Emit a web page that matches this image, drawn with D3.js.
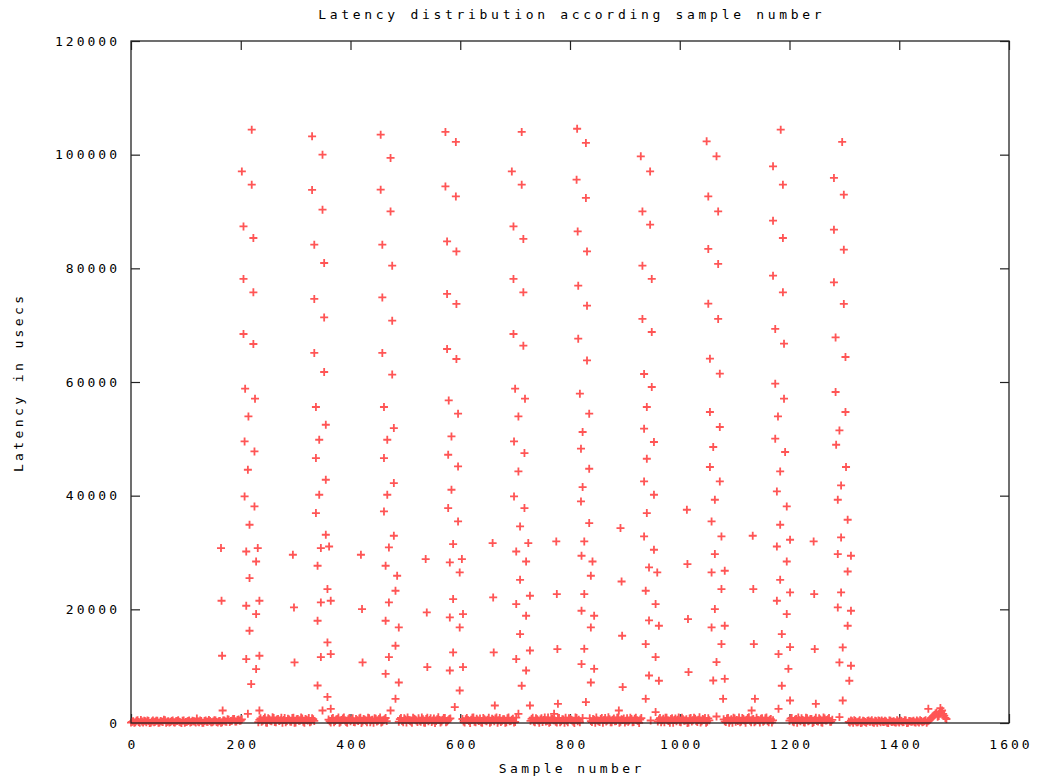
<!DOCTYPE html>
<html><head><meta charset="utf-8">
<script src="https://cdn.jsdelivr.net/npm/d3@7"></script>
<style>
body{margin:0;background:#fff;}
text{font-family:"DejaVu Sans Mono",monospace;font-size:13px;fill:#000;}
</style></head><body>
<svg id="chart" width="1043" height="780"></svg>
<script>
// ---- data (sample number, latency in usecs) ----
const titleText = "Latency distribution according sample number";
const xLabel = "Sample number";
const yLabel = "Latency in usecs";
const xTicks = [0,200,400,600,800,1000,1200,1400,1600];
const yTicks = [0,20000,40000,60000,80000,100000,120000];

// low-latency band: per segment, values for samples start, start+4, ... (A) and start+2, start+6, ... (B)
const bandStep = 4;
const bandStarts = [0,232,360,488,604,728,836,960,1080,1200,1308];
const bandValuesA = [
 [80,320,150,480,30,250,400,120,340,60,450,210,380,90,270,560,40,310,180,420,100,350,230,20,460,190,330,70,400,260,780,130,350,50,440,220,370,110,500,160,300,30,420,260,650,180,380,720,250,600,420],
 [150,820,400,980,60,640,300,900,120,720,480,40,860,350,600,200,940,90,700,420,780,30,560,880,250,680],
 [600,80,900,350,720,40,530,960,180,640,300,850,110,470,780,20,690,400,920,150,560,830,260,710,70,500,880],
 [240,890,130,600,970,380,50,740,460,820,200,650,30,910,540,170,780,330,990,100,560,870,280,720],
 [700,90,860,350,580,960,140,480,810,40,670,300,920,200,550,780,60,890,400,640,120,950,330,760,180],
 [380,920,110,650,40,830,520,260,970,190,700,480,80,860,310,600,940,150,740,420,20,880,560],
 [820,160,580,960,300,700,50,890,420,640,120,780,360,980,240,520,70,850,460,690,190,930,340,610],
 [260,870,500,120,940,330,690,40,800,560,210,910,380,640,90,860,470,730,170,990,310,580,60,820],
 [640,180,900,420,60,780,520,950,250,700,30,860,390,610,140,920,480,740,200,830,350,570,100],
 [410,880,150,690,960,300,540,70,820,460,720,180,930,260,620,40,790,500,870,230],
 [200,420,60,350,150,480,90,300,30,440,260,120,380,50,330,460,170,280,20,400,230,110,490,70,350,190,420,40,310,250,130,450,80,370,210,500,300,600,950,1400,1800,1250,2000,1600,900]
];
const bandValuesB = [
 [210,40,380,160,520,90,300,450,20,270,130,410,60,330,190,480,240,70,360,140,290,500,110,390,50,230,440,170,310,80,260,420,30,370,200,540,150,280,430,70,350,120,460,210,580,330,700,280,510,390,640],
 [560,230,700,90,850,410,990,180,620,330,910,520,140,760,270,880,50,640,380,960,200,720,450,110,830,360],
 [320,760,150,620,980,240,810,420,60,890,510,170,720,360,940,280,560,120,830,470,30,740,390,980,210,650,340],
 [680,360,820,90,540,250,930,610,180,390,960,70,720,300,840,450,20,640,510,250,900,140,470,810],
 [280,640,510,20,910,240,760,370,130,890,460,580,60,750,320,980,420,170,660,30,820,290,550,100,930],
 [720,260,850,430,600,170,980,340,60,760,490,220,910,130,680,40,390,830,570,200,960,310,120],
 [330,700,40,450,180,870,520,260,990,110,570,300,940,60,680,810,380,230,920,150,740,480,20,870],
 [610,110,760,930,420,50,850,510,290,980,140,660,430,20,800,250,940,340,580,70,720,890,200,470],
 [290,810,60,680,930,220,370,110,860,420,590,990,150,720,300,540,80,850,380,960,120,690,470],
 [760,260,590,40,480,820,130,930,310,690,20,560,360,840,110,980,420,680,210,550],
 [90,310,470,130,260,20,410,180,370,230,500,60,290,440,110,220,390,40,460,160,320,80,270,430,150,490,20,360,200,410,100,280,470,140,330,60,450,780,1200,1650,1100,1900,2200,1300,700]
];

// smaller draining bursts between the big columns
const midBursts = [
 [164,30780],[165,21510],[166,11830],[167,2200],
 [295,29600],[297,20330],[298,10650],
 [419,29600],[421,20050],[422,10650],
 [537,28850],[539,19450],[540,9840],
 [659,31660],[660,22090],[661,12410],[663,3080],
 [775,31940],[776,22690],[777,13010],[778,3380],[771,1620],
 [892,34300],[894,24900],[895,15350],[896,6320],[889,2200],
 [1013,37520],[1014,27970],[1015,18290],[1016,8960],
 [1133,32950],[1134,23570],[1135,13890],[1137,4260],[1131,2200],
 [1244,31940],[1245,22690],[1246,13010],[1248,3380],
 [1453,2500],[1475,2620]
];

const column1 = [[220,104400],[202,97060],[220,94720],[205,87380],[223,85340],[205,78130],[223,75770],[205,68450],[223,66690],[208,58820],[226,57060],[214,53940],[207,49540],[225,47780],[213,44560],[207,39860],[225,38100],[216,34880],[210,30180],[231,30780],[228,28420],[216,25500],[210,20630],[234,21510],[228,19170],[216,16230],[210,11250],[234,11830],[228,9490],[219,6850],[213,1620],[234,2200]];
const column2 = [[330,103220],[349,100000],[330,93800],[349,90320],[334,84160],[352,80940],[334,74610],[352,71370],[334,65120],[352,61760],[337,55600],[355,52480],[343,49840],[337,46620],[355,42800],[343,40160],[337,36940],[355,33120],[346,30780],[361,31060],[340,27670],[358,23570],[346,21210],[364,21510],[340,17990],[358,14170],[346,11600],[364,12130],[340,6600],[358,4590],[349,2200],[364,2500]];
const column3 = [[455,103520],[473,99420],[455,93840],[473,90020],[458,84160],[476,80470],[458,74890],[476,70790],[458,65120],[476,61300],[461,55600],[479,51900],[467,49840],[461,46620],[479,42220],[467,40160],[461,37220],[479,32950],[470,30890],[464,27670],[485,25910],[482,23270],[470,21210],[464,17990],[488,16810],[482,13590],[470,11600],[464,8660],[488,7130],[482,4260],[473,2200]];
const column4 = [[573,104000],[592,102240],[573,94420],[592,92660],[576,84740],[593,82980],[576,75490],[593,73730],[576,65810],[593,64050],[579,56760],[596,54420],[584,50420],[578,47200],[596,45140],[584,41040],[578,37820],[596,35460],[587,31490],[581,28250],[603,28850],[599,26490],[587,21810],[581,18570],[605,19170],[599,16810],[587,12410],[581,9240],[605,9840],[599,5720],[590,2800]];
const column5 = [[712,104000],[694,97060],[712,94720],[697,87380],[715,85170],[697,78130],[715,75770],[697,68450],[715,66390],[700,58820],[718,57060],[706,53940],[698,49540],[717,47500],[706,44260],[698,39860],[717,37820],[709,34580],[724,31660],[702,30180],[720,28420],[709,25200],[727,22390],[702,20930],[720,18870],[709,15650],[727,12760],[702,11250],[720,9240],[712,6550],[727,3080],[706,1620]];
const column6 = [[813,104560],[829,102060],[812,95600],[829,92380],[814,86500],[831,82980],[815,76950],[831,73430],[815,67620],[831,63800],[818,57940],[835,54420],[823,51200],[820,48260],[835,44740],[823,41520],[820,38980],[835,35180],[826,31940],[821,29430],[841,28420],[838,25910],[826,22690],[821,19750],[844,18870],[838,16810],[826,13060],[821,10370],[844,9540],[838,7130],[829,3680],[823,860]];
const column7 = [[929,99700],[946,97060],[932,90020],[946,87680],[932,80470],[949,78130],[932,71090],[949,68800],[935,61410],[949,59120],[940,55600],[935,51780],[953,49440],[940,46500],[935,42500],[953,40160],[940,36940],[935,32820],[953,30480],[944,27370],[959,26490],[938,23270],[956,20930],[944,18050],[962,17110],[938,13890],[956,11600],[944,8360],[962,7430],[938,4260],[956,1920],[947,440]];
const column8 = [[1049,102340],[1067,99700],[1052,92660],[1070,90020],[1052,83410],[1070,80770],[1052,73780],[1070,71090],[1055,64100],[1073,61460],[1055,54720],[1073,52080],[1061,48560],[1055,45040],[1073,42500],[1064,39280],[1058,35460],[1076,32820],[1064,29730],[1058,26490],[1082,26790],[1076,23570],[1064,20050],[1058,16810],[1082,17110],[1076,13890],[1067,10720],[1061,7480],[1082,7780],[1079,4260],[1067,1140]];
const column9 = [[1184,104400],[1170,97940],[1188,94720],[1170,88390],[1188,85340],[1170,78710],[1188,75770],[1174,69330],[1190,66740],[1174,59700],[1190,57060],[1179,53940],[1174,50020],[1192,47680],[1183,44260],[1177,40740],[1195,38100],[1183,34880],[1177,31060],[1201,32240],[1195,28420],[1183,25200],[1177,21510],[1201,22970],[1195,19170],[1186,15650],[1180,12130],[1201,13360],[1198,9540],[1186,6550],[1180,2500],[1201,3960]];
const column10 = [[1296,102240],[1281,95900],[1299,92960],[1281,86800],[1299,83280],[1281,77530],[1299,73730],[1284,67850],[1302,64400],[1284,58240],[1302,54720],[1291,51480],[1285,48960],[1303,45040],[1294,41800],[1288,39280],[1306,35760],[1294,32650],[1288,29730],[1312,29430],[1306,26660],[1294,22970],[1288,20330],[1312,19750],[1306,17110],[1297,13290],[1291,10650],[1312,10070],[1309,7430],[1297,3960],[1291,1040]];

// ---- build the point table ----
const points = [];
bandStarts.forEach((s, i) => {
  bandValuesA[i].forEach((v, j) => points.push([s + j * bandStep, v]));
  bandValuesB[i].forEach((v, j) => points.push([s + 2 + j * bandStep, v]));
});
[midBursts, column1, column2, column3, column4, column5, column6, column7, column8, column9, column10]
  .forEach(arr => arr.forEach(p => points.push(p)));

// ---- drawing ----
const W = 1043, H = 780;
const plot = {left: 131, right: 1009, top: 41, bottom: 723};
const x = d3.scaleLinear().domain([0, 1600]).range([plot.left, plot.right]);
const y = d3.scaleLinear().domain([0, 120000]).range([plot.bottom, plot.top]);

const svg = d3.select("#chart");
svg.append("rect").attr("width", W).attr("height", H).attr("fill", "#fff");

const tickLen = 9;
const gB = svg.append("g").attr("transform", `translate(0,${plot.bottom})`)
  .call(d3.axisBottom(x).tickValues(xTicks).tickSize(-tickLen).tickSizeOuter(0).tickPadding(17).tickFormat(d3.format("d")));
const gL = svg.append("g").attr("transform", `translate(${plot.left},0)`)
  .call(d3.axisLeft(y).tickValues(yTicks).tickSize(-tickLen).tickSizeOuter(0).tickPadding(11).tickFormat(d3.format("d")));
const gT = svg.append("g").attr("transform", `translate(0,${plot.top})`)
  .call(d3.axisTop(x).tickValues(xTicks).tickSize(-tickLen).tickSizeOuter(0).tickFormat(""));
const gR = svg.append("g").attr("transform", `translate(${plot.right},0)`)
  .call(d3.axisRight(y).tickValues(yTicks).tickSize(-tickLen).tickSizeOuter(0).tickFormat(""));
[gB, gL, gT, gR].forEach(g => {
  g.select(".domain").remove();
  g.selectAll(".tick line").attr("stroke", "#222").attr("stroke-width", 1.2);
  g.selectAll("text").attr("font-family", null).attr("font-size", null)
    .style("letter-spacing", "3px").attr("fill", "#000");
});
gB.selectAll("text").attr("dx", "1.5px");

// points
svg.append("g").selectAll("path").data(points).join("path")
  .attr("transform", d => `translate(${x(d[0])},${y(d[1])})`)
  .attr("d", "M-4,0H4M0,-4V4")
  .attr("stroke", "#ff5555").attr("stroke-width", 1.8).attr("fill", "none");

// frame
svg.append("rect").attr("x", plot.left).attr("y", plot.top)
  .attr("width", plot.right - plot.left).attr("height", plot.bottom - plot.top)
  .attr("fill", "none").attr("stroke", "#222").attr("stroke-width", 1.3);

// titles
svg.append("text").attr("x", 570).attr("y", 19).attr("text-anchor", "middle")
  .attr("dx", "1.8px").style("letter-spacing", "3.7px").text(titleText);
svg.append("text").attr("x", 570).attr("y", 773).attr("text-anchor", "middle")
  .attr("dx", "1.7px").style("letter-spacing", "3.4px").text(xLabel);
svg.append("text").attr("transform", "translate(23,384) rotate(-90)").attr("text-anchor", "middle")
  .attr("dx", "1.7px").style("letter-spacing", "3.4px").text(yLabel);
</script>
</body></html>
